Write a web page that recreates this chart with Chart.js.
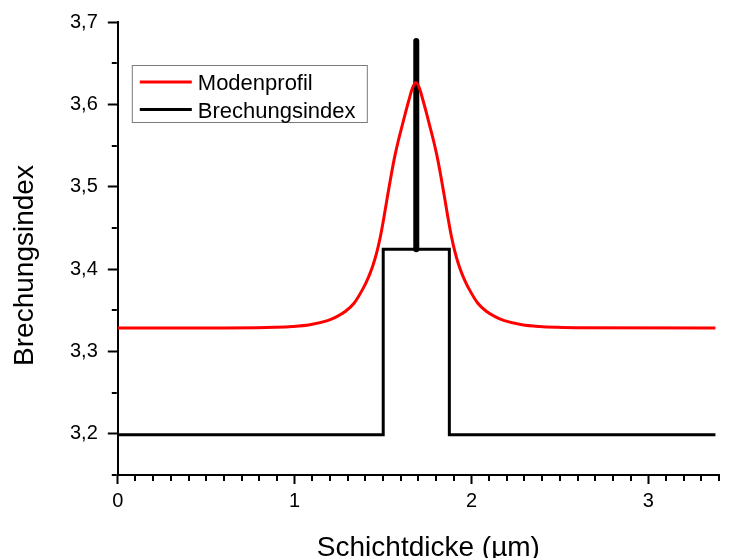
<!DOCTYPE html>
<html>
<head>
<meta charset="utf-8">
<script src="https://cdn.jsdelivr.net/npm/chart.js@4.4.1/dist/chart.umd.min.js"></script>
<style>
  html, body { margin: 0; padding: 0; background: #ffffff; }
  #wrap { width: 730px; height: 558px; position: relative; }
</style>
</head>
<body>
<div id="wrap"><canvas id="chart" width="730" height="558"></canvas></div>
<script>
// ---- data ----
const modeX = [0, 0.6, 0.786, 0.886, 0.986, 1.086, 1.186, 1.236, 1.286, 1.336, 1.386, 1.406, 1.426, 1.446, 1.466, 1.486,
               1.506, 1.526, 1.546, 1.566, 1.586, 1.606, 1.626, 1.646, 1.666, 1.686,
               1.706, 1.726, 1.746, 1.766, 1.786, 1.806, 1.826, 1.846, 1.866, 1.886, 1.906, 1.926, 1.946, 1.966,
               1.986, 2.036, 2.086, 2.136, 2.186, 2.286, 2.386, 2.486, 2.586, 3.38];
const modeY = [3.3285, 3.3285, 3.3288, 3.3293, 3.3303, 3.3325, 3.3375, 3.3420, 3.3485, 3.3585, 3.3760, 3.3845, 3.3945, 3.4065, 3.4215, 3.4405,
               3.4640, 3.4895, 3.5140, 3.5365, 3.5555, 3.5725, 3.5890, 3.6050, 3.6195, 3.6265,
               3.6195, 3.6050, 3.5890, 3.5725, 3.5555, 3.5365, 3.5140, 3.4895, 3.4640, 3.4405, 3.4215, 3.4065, 3.3945, 3.3845,
               3.3760, 3.3585, 3.3485, 3.3420, 3.3375, 3.3325, 3.3303, 3.3293, 3.3288, 3.3285];

const indexX = [0, 1.501, 1.501, 1.875, 1.875, 3.38];
const indexY = [3.199, 3.199, 3.424, 3.424, 3.199, 3.199];

const spikeX = [1.688, 1.688];
const spikeY = [3.424, 3.677];

const xTickValues = [0, 1, 2, 3];
const yTickValues = [3.2, 3.3, 3.4, 3.5, 3.6, 3.7];

const seriesLabels = ['Modenprofil', 'Brechungsindex'];
const xTitle = 'Schichtdicke (\u00b5m)';
const yTitle = 'Brechungsindex';

const FONT = "'Liberation Sans', Arial, sans-serif";

function pts(xs, ys) { return xs.map((x, i) => ({ x: x, y: ys[i] })); }

// minor ticks, legend box and axis titles
const decor = {
  id: 'decor',
  afterDraw(chart) {
    const ctx = chart.ctx;
    const a = chart.chartArea;
    const xs = chart.scales.x, ys = chart.scales.y;
    ctx.save();
    ctx.strokeStyle = '#000';
    ctx.lineWidth = 2;
    ctx.beginPath();
    for (let i = 1; i * 0.1 <= xs.max + 1e-9; i++) {
      if (i % 10 === 0) continue;
      const px = Math.round(xs.getPixelForValue(i * 0.1));
      ctx.moveTo(px, a.bottom + 1);
      ctx.lineTo(px, a.bottom + 6);
    }
    for (let i = 0; ys.min + i * 0.05 <= ys.max + 1e-9; i++) {
      if (i % 2 === 0) {
        const v = ys.min + i * 0.05;
        const py = Math.round(ys.getPixelForValue(v));
        ctx.moveTo(a.left - 1, py);
        ctx.lineTo(a.left - 6, py);
      }
    }
    ctx.stroke();

    // legend
    const lx = a.left + 14, ly = a.top + 43, lw = 235, lh = 57;
    ctx.lineWidth = 1;
    ctx.strokeStyle = '#7a7a7a';
    ctx.strokeRect(lx + 0.5, ly + 0.5, lw, lh);
    ctx.font = '22px ' + FONT;
    ctx.textBaseline = 'alphabetic';
    ctx.textAlign = 'left';
    [0, 1].forEach((di, r) => {
      const ds = chart.data.datasets[di];
      const yy = ly + 17 + r * 27.5;
      ctx.strokeStyle = ds.borderColor;
      ctx.lineWidth = 3;
      ctx.beginPath();
      ctx.moveTo(lx + 8, yy);
      ctx.lineTo(lx + 60, yy);
      ctx.stroke();
      ctx.fillStyle = '#000';
      ctx.fillText(ds.label, lx + 66, yy + 8);
    });

    // axis titles
    ctx.fillStyle = '#000';
    ctx.font = '28px ' + FONT;
    ctx.textAlign = 'center';
    ctx.fillText(chart.options.scales.x.title.text, (a.left + a.right) / 2 + 10, a.bottom + 81);
    ctx.translate(a.left - 85, (a.top + a.bottom) / 2 + 17);
    ctx.rotate(-Math.PI / 2);
    ctx.fillText(chart.options.scales.y.title.text, 0, 0);
    ctx.restore();
  }
};

new Chart(document.getElementById('chart'), {
  type: 'line',
  data: {
    datasets: [
      {
        label: seriesLabels[0],
        data: pts(modeX, modeY),
        borderColor: '#ff0000',
        backgroundColor: '#ff0000',
        borderWidth: 3,
        pointRadius: 0,
        cubicInterpolationMode: 'monotone',
        fill: false
      },
      {
        label: seriesLabels[1],
        data: pts(indexX, indexY),
        borderColor: '#000000',
        backgroundColor: '#000000',
        borderWidth: 3,
        pointRadius: 0,
        tension: 0,
        borderJoinStyle: 'miter',
        fill: false
      },
      {
        label: seriesLabels[1] + ' ',
        data: pts(spikeX, spikeY),
        borderColor: '#000000',
        backgroundColor: '#000000',
        borderWidth: 6,
        borderCapStyle: 'round',
        pointRadius: 0,
        tension: 0,
        fill: false
      }
    ]
  },
  options: {
    responsive: false,
    animation: false,
    events: [],
    layout: { padding: { left: 60, right: 11, top: 16, bottom: 40 } },
    plugins: {
      legend: { display: false },
      tooltip: { enabled: false }
    },
    scales: {
      x: {
        type: 'linear',
        min: 0,
        max: 3.4,
        afterBuildTicks: (s) => { s.ticks = xTickValues.map(v => ({ value: v })); },
        border: { display: true, color: '#000', width: 2 },
        grid: { display: true, drawOnChartArea: false, drawTicks: true, tickLength: 9, tickWidth: 2, tickColor: '#000' },
        ticks: {
          color: '#000',
          font: { family: FONT, size: 20 },
          padding: 5,
          autoSkip: false,
          maxRotation: 0,
          callback: (v) => String(v)
        },
        title: { display: false, text: xTitle }
      },
      y: {
        type: 'linear',
        min: 3.15,
        max: 3.7,
        afterBuildTicks: (s) => { s.ticks = yTickValues.map(v => ({ value: v })); },
        border: { display: true, color: '#000', width: 2 },
        grid: { display: true, drawOnChartArea: false, drawTicks: true, tickLength: 10, tickWidth: 2, tickColor: '#000' },
        ticks: {
          color: '#000',
          font: { family: FONT, size: 20 },
          padding: 10,
          autoSkip: false,
          callback: (v) => Number(v).toFixed(1).replace('.', ',')
        },
        title: { display: false, text: yTitle }
      }
    }
  },
  plugins: [decor]
});
</script>
</body>
</html>
